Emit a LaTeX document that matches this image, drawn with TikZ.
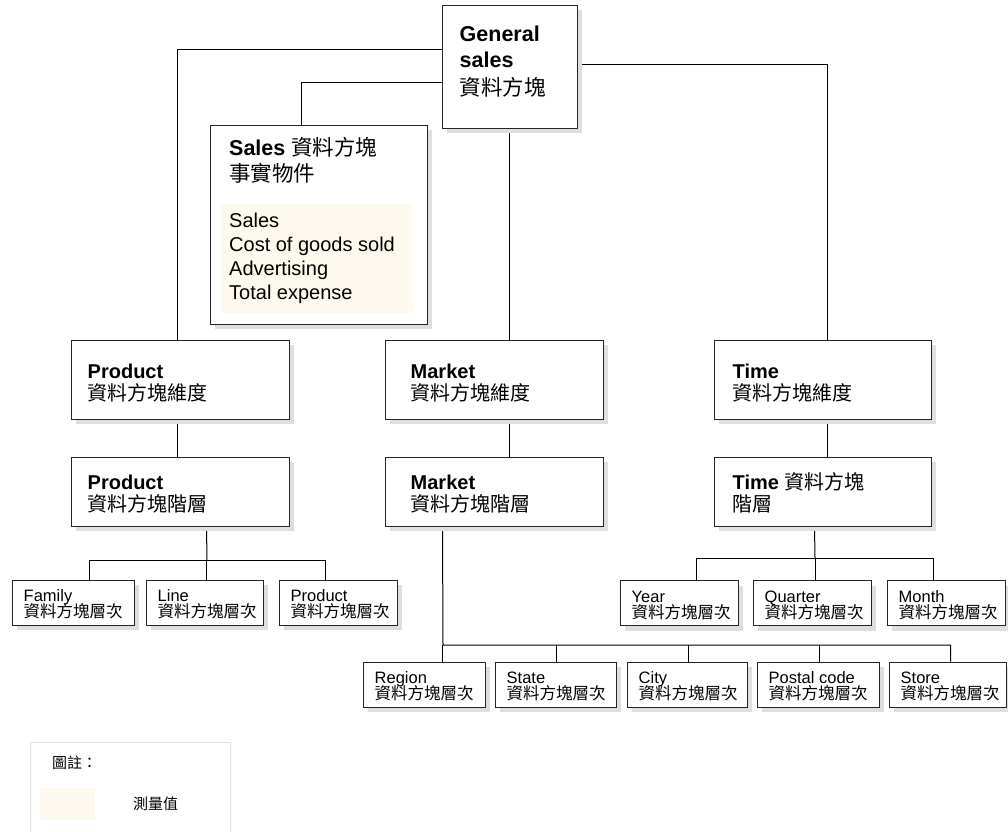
\documentclass[tikz,border=0pt]{standalone}
\usepackage{fontspec}
\setmainfont{Liberation Sans}
\newfontfamily\cjk{Noto Sans CJK TC}
\usetikzlibrary{shadows}
\definecolor{meas}{RGB}{253,249,238}
\definecolor{shade}{RGB}{222,222,222}
\pgfdeclarelayer{bg}
\pgfsetlayers{bg,main}
\begin{document}
\begin{tikzpicture}[x=1pt,y=-1pt,
  box/.style={draw=black!85, line width=1pt, fill=white, inner sep=0pt,
    drop shadow={shadow xshift=5pt, shadow yshift=-5pt, fill=shade, opacity=1}},
  dimbox/.style={box, minimum width=218pt, minimum height=79pt},
  hierbox/.style={box, minimum width=218pt, minimum height=69pt},
  lvl/.style={box, minimum height=45pt},
  lt/.style={inner sep=0pt, anchor=base west},
  big/.style={lt, font=\fontsize{20}{23}\selectfont},
  huge/.style={lt, font=\fontsize{21.5}{26}\selectfont},
  small/.style={lt, font=\fontsize{16.5}{15}\selectfont},
  conn/.style={draw=black, line width=1pt},
]
\useasboundingbox (0,0) rectangle (1008,831);

% top cube
\node[box, minimum width=135pt, minimum height=123pt] (gs) at (509.5,66.5) {};
\node[huge] (gs1) at ([shift={(18pt,-37pt)}]gs.north west) {\textbf{General}};
\node[huge] (gs2) at ([shift={(18pt,-63pt)}]gs.north west) {\textbf{sales}};
\node[huge] (gs3) at ([shift={(18pt,-90.5pt)}]gs.north west) {\cjk 資料方塊};

% sales cube facts
\node[box, minimum width=217pt, minimum height=199pt] (sales) at (318.5,224.5) {};
\node[fill=meas, minimum width=192pt, minimum height=109pt, inner sep=0pt] (measbox) at (317,258.5) {};
\node[huge] (st1) at (229,155) {\textbf{Sales} {\cjk 資料方塊}};
\node[huge] (st2) at (229,181.5) {\cjk 事實物件};
\node[big] (sm1) at (229,227) {Sales};
\node[big] (sm2) at (229,251) {Cost of goods sold};
\node[big] (sm3) at (229,275) {Advertising};
\node[big] (sm4) at (229,299) {Total expense};

% dimensions
\node[dimbox] (prod) at (180,379.5) {};
\node[dimbox] (market) at (494,379.5) {};
\node[dimbox, minimum width=217pt] (time) at (822.5,379.5) {};
\node[big] (prod1) at ([shift={(17pt,-38.5pt)}]prod.north west) {\textbf{Product}};
\node[big] (prod2) at ([shift={(17pt,-61pt)}]prod.north west) {\cjk 資料方塊維度};
\node[big] (market1) at ([shift={(26pt,-38.5pt)}]market.north west) {\textbf{Market}};
\node[big] (market2) at ([shift={(26pt,-61pt)}]market.north west) {\cjk 資料方塊維度};
\node[big] (time1) at ([shift={(19pt,-38.5pt)}]time.north west) {\textbf{Time}};
\node[big] (time2) at ([shift={(19pt,-61pt)}]time.north west) {\cjk 資料方塊維度};

% hierarchies
\node[hierbox] (prodh) at (180,491.5) {};
\node[hierbox] (marketh) at (494,491.5) {};
\node[hierbox, minimum width=217pt] (timeh) at (822.5,491.5) {};
\node[big] (prodh1) at ([shift={(17pt,-32.5pt)}]prodh.north west) {\textbf{Product}};
\node[big] (prodh2) at ([shift={(17pt,-54.5pt)}]prodh.north west) {\cjk 資料方塊階層};
\node[big] (marketh1) at ([shift={(26pt,-32.5pt)}]marketh.north west) {\textbf{Market}};
\node[big] (marketh2) at ([shift={(26pt,-54.5pt)}]marketh.north west) {\cjk 資料方塊階層};
\node[big] (timeh1) at ([shift={(19pt,-33pt)}]timeh.north west) {\textbf{Time} {\cjk 資料方塊}};
\node[big] (timeh2) at ([shift={(19pt,-55pt)}]timeh.north west) {\cjk 階層};

% product levels
\node[lvl, minimum width=122pt] (fam) at (73,602.5) {};
\node[lvl, minimum width=117pt] (line) at (204.5,602.5) {};
\node[lvl, minimum width=118pt] (plev) at (338,602.5) {};
% time levels
\node[lvl, minimum width=118pt] (year) at (679,603) {};
\node[lvl, minimum width=118pt] (quart) at (812,603) {};
\node[lvl, minimum width=118pt] (month) at (946,603) {};
% market levels
\node[lvl, minimum width=122pt] (region) at (424,684.5) {};
\node[lvl, minimum width=121pt] (state) at (555.5,684.5) {};
\node[lvl, minimum width=120pt] (city) at (687,684.5) {};
\node[lvl, minimum width=122pt] (postal) at (818,684.5) {};
\node[lvl, minimum width=117pt] (store) at (947.5,684.5) {};

\foreach \b/\t in {fam/Family, line/Line, plev/Product, year/Year, quart/Quarter,
                   month/Month, region/Region, state/State, city/City,
                   postal/Postal code, store/Store}{
  \node[small] (\b1) at ([shift={(12pt,-22pt)}]\b.north west) {\t};
  \node[small] (\b2) at ([shift={(12pt,-38pt)}]\b.north west) {\cjk 資料方塊層次};
}

% legend
\node[draw=black!12, line width=0.8pt, minimum width=200pt, minimum height=95pt, anchor=north west, inner sep=0pt] (leg) at (30,742) {};
\node[inner sep=0pt, anchor=west, font=\cjk\fontsize{15}{15}\selectfont] (legt) at (52,763) {圖註：};
\node[fill=meas, minimum width=55pt, minimum height=32pt, inner sep=0pt, anchor=north west] (swatch) at (40,788) {};
\node[inner sep=0pt, anchor=west, font=\cjk\fontsize{15}{15}\selectfont] (legm) at (133,804) {測量值};

% helper coordinates
\coordinate (pb) at (207,560);
\coordinate (tb) at (815,558);
\coordinate (mb) at (443,645);
\coordinate (famd) at ([xshift=78pt]fam.north west);
\coordinate (lind) at ([xshift=61pt]line.north west);
\coordinate (plevd) at ([xshift=47pt]plev.north west);
\coordinate (yeard) at ([xshift=77pt]year.north west);
\coordinate (quartd) at ([xshift=63pt]quart.north west);
\coordinate (monthd) at ([xshift=47pt]month.north west);
\coordinate (regd) at ([xshift=80pt]region.north west);
\coordinate (stated) at ([xshift=62pt]state.north west);
\coordinate (cityd) at ([xshift=62pt]city.north west);
\coordinate (postd) at ([xshift=63pt]postal.north west);
\coordinate (stored) at ([xshift=62pt]store.north west);

\begin{pgfonlayer}{bg}
\draw[conn] ([yshift=-45pt]gs.north west) -| ([xshift=107pt]prod.north west);
\draw[conn] ([yshift=-78pt]gs.north west) -| ([xshift=92pt]sales.north west);
\draw[conn] (gs.south) -- (gs.south |- market.north);
\draw[conn] ([yshift=-60pt]gs.north east) -| ([xshift=113.5pt]time.north west);
\draw[conn] ([xshift=107pt]prod.south west) -- ([xshift=107pt]prodh.north west);
\draw[conn] (gs.south |- market.south) -- (gs.south |- marketh.north);
\draw[conn] ([xshift=113.5pt]time.south west) -- ([xshift=113.5pt]timeh.north west);
% product levels
\draw[conn] ([xshift=136pt]prodh.south west) -- (pb);
\draw[conn] (famd) |- (pb) -| (plevd);
\draw[conn] (lind) -- (lind |- pb);
% time levels
\draw[conn] ([xshift=101pt]timeh.south west) -- (tb);
\draw[conn] (yeard) |- (tb) -| (monthd);
\draw[conn] (quartd) -- (quartd |- tb);
% market levels
\draw[conn] ([xshift=58pt]marketh.south west) -- (mb) -| (stored);
\draw[conn] (regd) -- (regd |- mb);
\draw[conn] (stated) -- (stated |- mb);
\draw[conn] (cityd) -- (cityd |- mb);
\draw[conn] (postd) -- (postd |- mb);
\end{pgfonlayer}
\end{tikzpicture}
\end{document}
